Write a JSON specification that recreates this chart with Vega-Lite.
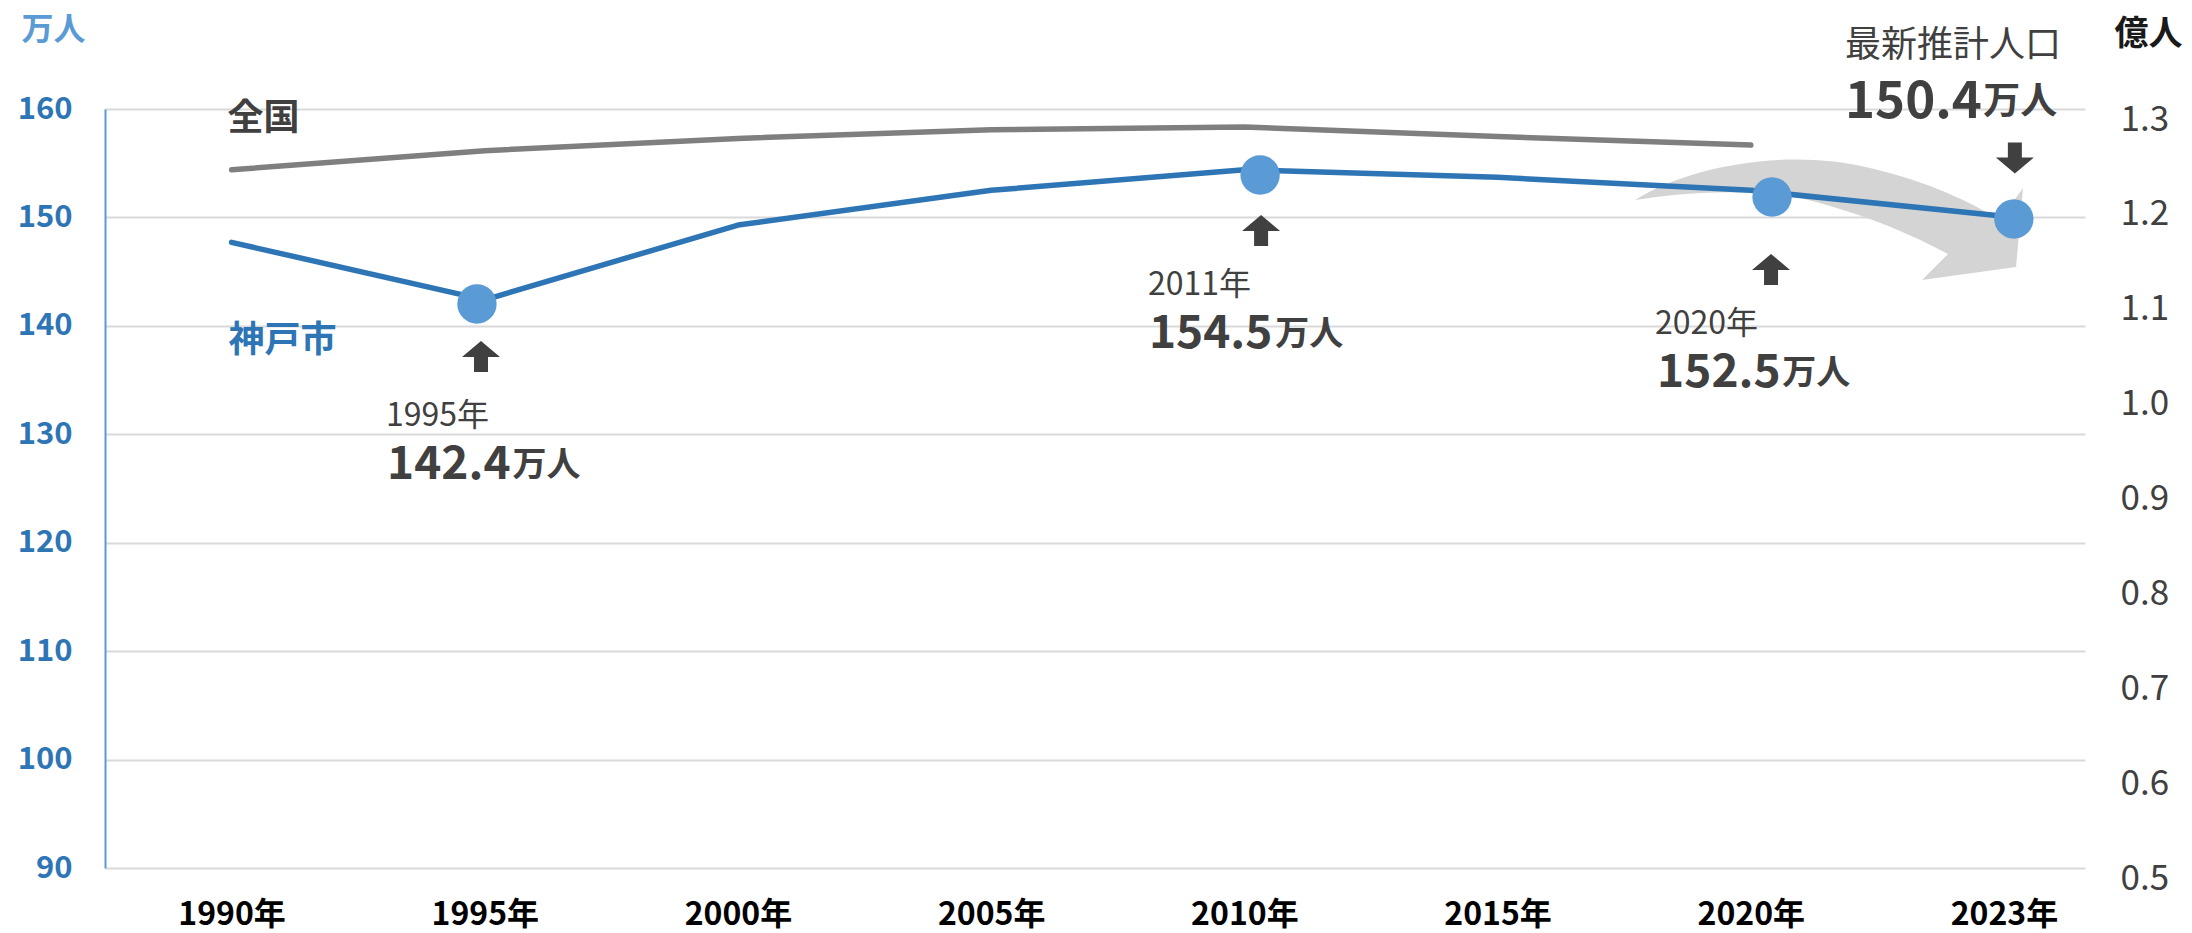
{
  "$schema": "https://vega.github.io/schema/vega-lite/v6.json",
  "width": 1980,
  "height": 759,
  "autosize": {"type": "none"},
  "padding": {"left": 105, "top": 109, "right": 107, "bottom": 65},
  "background": "#ffffff",
  "config": {"view": {"stroke": null}, "font": "Noto Sans CJK JP"},
  "datasets": {
    "kobe": [
      {"i": 0, "v": 147.7}, {"i": 1, "v": 142.4}, {"i": 2, "v": 149.3}, {"i": 3, "v": 152.5},
      {"i": 4, "v": 154.4}, {"i": 5, "v": 153.7}, {"i": 6, "v": 152.5}, {"i": 7, "v": 150.1}
    ],
    "zenkoku": [
      {"i": 0, "v": 1.236}, {"i": 1, "v": 1.256}, {"i": 2, "v": 1.269}, {"i": 3, "v": 1.278},
      {"i": 4, "v": 1.281}, {"i": 5, "v": 1.271}, {"i": 6, "v": 1.262}
    ],
    "dots": [
      {"i": 0.969, "v": 142.02}, {"i": 4.062, "v": 153.91}, {"i": 6.084, "v": 151.88}, {"i": 7.039, "v": 149.86}
    ],
    "arrows": [
      {"i": 0.985, "v": 137.17, "dir": "up"}, {"i": 4.066, "v": 148.79, "dir": "up"},
      {"i": 6.08, "v": 145.2, "dir": "up"}, {"i": 7.043, "v": 155.48, "dir": "down"}
    ],
    "swoosh": [{"i": 6.313, "v": 149.76}],
    "notes": [
      {"i": 0.61, "v": 130.76, "text": "1995年", "kind": "year"},
      {"i": 0.614, "v": 125.88, "text": "142.4", "kind": "num"},
      {"i": 1.109, "v": 126.15, "text": "万人", "kind": "unit"},
      {"i": 3.619, "v": 142.85, "text": "2011年", "kind": "year"},
      {"i": 3.623, "v": 137.96, "text": "154.5", "kind": "num"},
      {"i": 4.122, "v": 138.24, "text": "万人", "kind": "unit"},
      {"i": 5.622, "v": 139.25, "text": "2020年", "kind": "year"},
      {"i": 5.63, "v": 134.36, "text": "152.5", "kind": "num"},
      {"i": 6.124, "v": 134.64, "text": "万人", "kind": "unit"},
      {"i": 6.799, "v": 164.8, "text": "最新推計人口", "kind": "head"},
      {"i": 6.372, "v": 159.17, "text": "150.4", "kind": "bignum"},
      {"i": 6.918, "v": 159.54, "text": "万人", "kind": "bigunit"}
    ],
    "series": [
      {"i": 0.126, "v": 159.08, "text": "全国", "kind": "zen"},
      {"i": 0.201, "v": 138.6, "text": "神戸市", "kind": "kobe"}
    ]
  },
  "encoding": {
    "x": {
      "field": "i", "type": "quantitative",
      "scale": {"domain": [-0.5, 7.32], "nice": false, "zero": false},
      "axis": {
        "orient": "bottom", "title": null, "values": [0, 1, 2, 3, 4, 5, 6, 7],
        "labelExpr": "['1990年','1995年','2000年','2005年','2010年','2015年','2020年','2023年'][datum.value]",
        "labelFontSize": 32, "labelFontWeight": "bold", "labelColor": "#000000",
        "labelPadding": 31, "ticks": false, "domain": false, "grid": false,
        "labelFlush": false, "labelOverlap": false, "labelBound": false
      }
    }
  },
  "layer": [
    {
      "encoding": {
        "y": {
          "field": "v", "type": "quantitative",
          "scale": {"domain": [90, 160], "nice": false, "zero": false},
          "axis": {
            "orient": "left", "values": [90, 100, 110, 120, 130, 140, 150, 160],
            "title": "万人", "titleAngle": 0, "titleAlign": "center", "titleBaseline": "middle",
            "titleX": -52, "titleY": -80, "titleFontSize": 32, "titleFontWeight": "bold", "titleColor": "#5B9BD5",
            "labelFontSize": 31, "labelFontWeight": "bold", "labelColor": "#2E75B6", "labelPadding": 33,
            "ticks": false, "domain": true, "domainColor": "#5B9BD5", "domainWidth": 2,
            "grid": true, "gridColor": "#D9D9D9", "gridWidth": 2, "labelOverlap": false
          }
        }
      },
      "layer": [
        {
          "data": {"name": "swoosh"},
          "mark": {"type": "point", "shape": "M-195,-20C-140,-55,-40,-72,40,-52C100,-38,140,-18,170,0L193,-32L186,47L92,60L118,34C70,8,10,-14,-40,-24C-100,-32,-160,-26,-195,-20Z", "size": 4, "filled": true, "color": "#D4D4D4", "opacity": 1, "strokeWidth": 0}
        },
        {
          "data": {"name": "kobe"},
          "mark": {"type": "line", "color": "#2E75B6", "strokeWidth": 5.5, "strokeCap": "round", "strokeJoin": "round"}
        },
        {
          "data": {"name": "dots"},
          "mark": {"type": "circle", "size": 1550, "color": "#5B9BD5", "opacity": 1}
        },
        {
          "data": {"name": "arrows"},
          "transform": [{"filter": "datum.dir === 'up'"}],
          "mark": {"type": "point", "shape": "M0,-15.5L19,0.5L7,0.5L7,15.5L-7,15.5L-7,0.5L-19,0.5Z", "size": 4, "filled": true, "color": "#404040", "opacity": 1, "strokeWidth": 0}
        },
        {
          "data": {"name": "arrows"},
          "transform": [{"filter": "datum.dir === 'down'"}],
          "mark": {"type": "point", "shape": "M0,15.5L19,-0.5L7,-0.5L7,-15.5L-7,-15.5L-7,-0.5L-19,-0.5Z", "size": 4, "filled": true, "color": "#404040", "opacity": 1, "strokeWidth": 0}
        },
        {
          "data": {"name": "notes"},
          "transform": [{"filter": "datum.kind === 'year'"}],
          "mark": {"type": "text", "align": "left", "baseline": "alphabetic", "fontSize": 32, "fontWeight": "normal", "color": "#404040"},
          "encoding": {"text": {"field": "text"}}
        },
        {
          "data": {"name": "notes"},
          "transform": [{"filter": "datum.kind === 'num'"}],
          "mark": {"type": "text", "align": "left", "baseline": "alphabetic", "fontSize": 46, "fontWeight": "bold", "color": "#404040"},
          "encoding": {"text": {"field": "text"}}
        },
        {
          "data": {"name": "notes"},
          "transform": [{"filter": "datum.kind === 'unit'"}],
          "mark": {"type": "text", "align": "left", "baseline": "alphabetic", "fontSize": 34, "fontWeight": "bold", "color": "#404040"},
          "encoding": {"text": {"field": "text"}}
        },
        {
          "data": {"name": "notes"},
          "transform": [{"filter": "datum.kind === 'head'"}],
          "mark": {"type": "text", "align": "center", "baseline": "alphabetic", "fontSize": 36, "fontWeight": "normal", "color": "#404040"},
          "encoding": {"text": {"field": "text"}}
        },
        {
          "data": {"name": "notes"},
          "transform": [{"filter": "datum.kind === 'bignum'"}],
          "mark": {"type": "text", "align": "left", "baseline": "alphabetic", "fontSize": 51, "fontWeight": "bold", "color": "#404040"},
          "encoding": {"text": {"field": "text"}}
        },
        {
          "data": {"name": "notes"},
          "transform": [{"filter": "datum.kind === 'bigunit'"}],
          "mark": {"type": "text", "align": "left", "baseline": "alphabetic", "fontSize": 37, "fontWeight": "bold", "color": "#404040"},
          "encoding": {"text": {"field": "text"}}
        },
        {
          "data": {"name": "series"},
          "transform": [{"filter": "datum.kind === 'zen'"}],
          "mark": {"type": "text", "align": "center", "baseline": "middle", "fontSize": 36, "fontWeight": "bold", "color": "#404040"},
          "encoding": {"text": {"field": "text"}}
        },
        {
          "data": {"name": "series"},
          "transform": [{"filter": "datum.kind === 'kobe'"}],
          "mark": {"type": "text", "align": "center", "baseline": "middle", "fontSize": 36, "fontWeight": "bold", "color": "#2E75B6"},
          "encoding": {"text": {"field": "text"}}
        }
      ]
    },
    {
      "data": {"name": "zenkoku"},
      "mark": {"type": "line", "color": "#7F7F7F", "strokeWidth": 5.5, "strokeCap": "round", "strokeJoin": "round"},
      "encoding": {
        "y": {
          "field": "v", "type": "quantitative",
          "scale": {"domain": [0.5, 1.3], "nice": false, "zero": false},
          "axis": {
            "orient": "right", "values": [0.5, 0.6, 0.7, 0.8, 0.9, 1.0, 1.1, 1.2, 1.3], "format": ".1f",
            "title": "億人", "titleAngle": 0, "titleAlign": "center", "titleBaseline": "middle",
            "titleX": 63, "titleY": -75, "titleFontSize": 34, "titleFontWeight": "bold", "titleColor": "#1A1A1A",
            "labelFontSize": 35, "labelFontWeight": "normal", "labelColor": "#404040", "labelPadding": 35,
            "labelOffset": 10, "ticks": false, "domain": false, "grid": false, "labelOverlap": false
          }
        }
      }
    }
  ],
  "resolve": {"scale": {"y": "independent"}, "axis": {"y": "independent"}}
}
